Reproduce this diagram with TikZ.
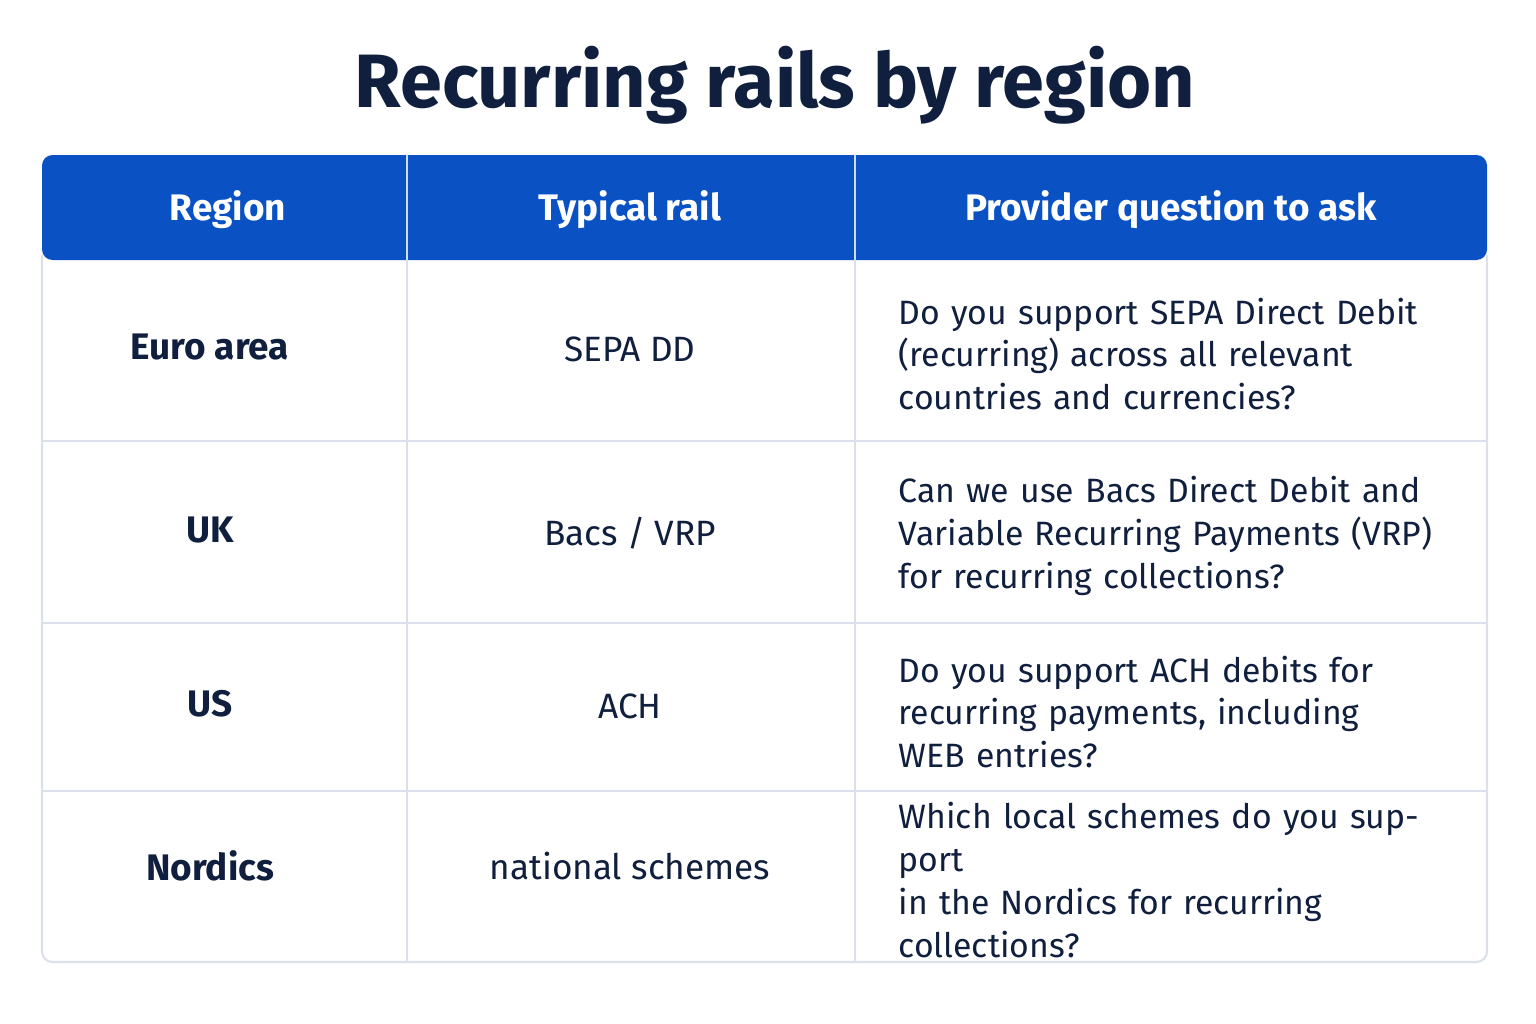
\documentclass[tikz,border=0pt]{standalone}
\usepackage{fontspec}
\setmainfont{Fira Sans}
\usetikzlibrary{positioning}
\definecolor{railblue}{HTML}{0A52C4}
\definecolor{railnavy}{HTML}{0F1F3D}
\definecolor{railgrid}{HTML}{DCE0EA}
\tikzset{
  hcell/.style={text=white, font=\fontsize{10.5pt}{12pt}\selectfont\bfseries},
  rcell/.style={text=railnavy, font=\fontsize{10.5pt}{12pt}\selectfont\bfseries},
  mcell/.style={text=railnavy, font=\fontsize{10pt}{12pt}\selectfont},
  qcell/.style={text=railnavy, font=\fontsize{9.6pt}{12.2pt}\selectfont, anchor=west, align=left, text width=5.6cm, inner sep=0pt},
}
\begin{document}
\begin{tikzpicture}[x=0.01cm,y=-0.01cm]
\useasboundingbox[fill=white] (0,0) rectangle (1536,1024);
% title
\node[text=railnavy, font=\fontsize{21.5pt}{24pt}\selectfont\bfseries] (title) at (775,85) {Recurring rails by region};
% table body and header
\fill[white] (42,155) rectangle (1487,962);
\fill[railblue, rounded corners=3pt] (42,155) rectangle (1487,260);
\draw[railgrid, line width=0.6pt, rounded corners=3pt] (42,255) -- (42,962) -- (1487,962) -- (1487,255);
\foreach \y in {441,623,791}
  \draw[railgrid, line width=0.6pt] (42,\y) -- (1487,\y);
\foreach \x in {407,855} {
  \draw[white!80!railblue, line width=0.6pt] (\x,155) -- (\x,260);
  \draw[railgrid, line width=0.6pt] (\x,260) -- (\x,962);
}
% header
\node[hcell] (hregion) at (228,210) {Region};
\node[hcell] (hrail) at (630,210) {Typical rail};
\node[hcell] (hquestion) at (1171,210) {Provider question to ask};
% rows
\node[rcell] (euro) at (210,347) {Euro area};
\node[mcell] (sepa) at (630,349) {SEPA DD};
\node[qcell] (qeuro) at (898,354) {Do you support SEPA Direct Debit\\(recurring) across all relevant\\countries and currencies?};
\node[rcell] (uk) at (210,530) {UK};
\node[mcell] (bacs) at (630,533) {Bacs / VRP};
\node[qcell] (quk) at (898,536) {Can we use Bacs Direct Debit and\\Variable Recurring Payments (VRP)\\for recurring collections?};
\node[rcell] (us) at (210,704) {US};
\node[mcell] (ach) at (630,706) {ACH};
\node[qcell] (qus) at (898,712) {Do you support ACH debits for\\recurring payments, including\\WEB entries?};
\node[rcell] (nordics) at (210,866) {Nordics};
\node[mcell] (national) at (630,866) {national schemes};
\node[qcell] (qnordics) at (898,880) {Which local schemes do you support\\in the Nordics for recurring\\collections?};
\end{tikzpicture}
\end{document}
